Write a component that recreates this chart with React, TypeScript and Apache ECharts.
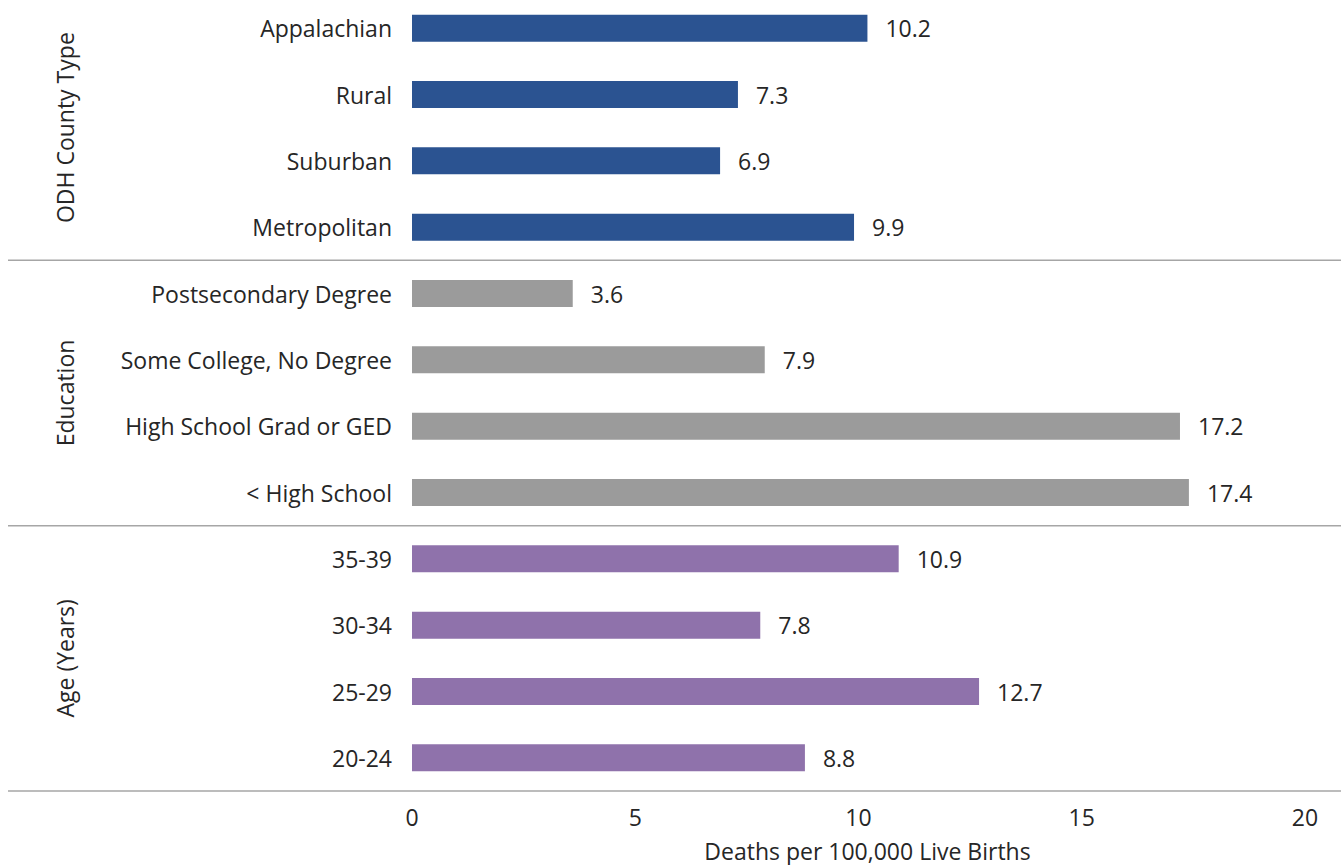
import React, { useEffect, useRef } from "react";
import * as echarts from "echarts";

const categories = [
  "Appalachian", "Rural", "Suburban", "Metropolitan",
  "Postsecondary Degree", "Some College, No Degree", "High School Grad or GED", "< High School",
  "35-39", "30-34", "25-29", "20-24",
];
const values = [10.2, 7.3, 6.9, 9.9, 3.6, 7.9, 17.2, 17.4, 10.9, 7.8, 12.7, 8.8];
const groupNames = ["ODH County Type", "Education", "Age (Years)"];
const groupSizes = [4, 4, 4];
const groupColors = ["#2B5391", "#9B9B9B", "#8F72AB"];
const xTicks = [0, 5, 10, 15, 20];

const FONT = "'Open Sans', 'Noto Sans', sans-serif";
const TEXT = "#262626";
const FS = 23;

export default function App() {
  const ref = useRef<HTMLDivElement>(null);
  useEffect(() => {
    document.body.style.margin = "0";
    const chart = echarts.init(ref.current!, null, { renderer: "svg" });
    const colorOf: string[] = [];
    groupSizes.forEach((n, g) => { for (let i = 0; i < n; i++) colorOf.push(groupColors[g]); });
    chart.setOption({
      animation: false,
      textStyle: { fontFamily: FONT },
      grid: { left: 412, right: 36, top: -5, bottom: 74, containLabel: false, outerBoundsMode: "none" },
      xAxis: {
        type: "value",
        min: xTicks[0],
        max: xTicks[xTicks.length - 1],
        interval: 5,
        splitLine: { show: false },
        axisLine: { show: false },
        axisTick: { show: false },
        axisLabel: { fontSize: FS, color: TEXT, margin: 14, fontFamily: FONT },
        name: "Deaths per 100,000 Live Births",
        nameLocation: "middle",
        nameGap: 48,
        nameMoveOverlap: false,
        nameTextStyle: { fontSize: FS, color: TEXT, fontFamily: FONT, padding: [0, 0, 0, 18] },
      },
      yAxis: {
        type: "category",
        data: categories,
        inverse: true,
        axisLine: { show: false },
        axisTick: { show: false },
        axisLabel: { fontSize: FS, color: TEXT, margin: 20, fontFamily: FONT },
      },
      series: [{
        type: "bar",
        barWidth: 27,
        data: values.map((v, i) => ({ value: v, itemStyle: { color: colorOf[i] } })),
        label: {
          show: true,
          position: "right",
          distance: 18,
          fontSize: FS,
          color: TEXT,
          fontFamily: FONT,
          formatter: (p: any) => p.value.toFixed(1),
        },
      }],
    });

    const py = (i: number) => chart.convertToPixel({ yAxisIndex: 0 }, categories[i]) as number;
    const band = py(1) - py(0);
    const graphics: any[] = [];
    let start = 0;
    groupSizes.forEach((n, g) => {
      const end = start + n - 1;
      const yLine = py(end) + band / 2;
      graphics.push({
        type: "line",
        shape: { x1: 8, y1: yLine, x2: 1341, y2: yLine },
        style: { stroke: "#A6A6A6", lineWidth: 1.5 },
      });
      const yc = (py(start) + py(end)) / 2;
      graphics.push({
        type: "text",
        x: 65,
        y: yc,
        rotation: Math.PI / 2,
        style: {
          text: groupNames[g],
          fontSize: FS,
          fontFamily: FONT,
          fill: TEXT,
          align: "center",
          verticalAlign: "middle",
        },
      });
      start = end + 1;
    });
    chart.setOption({ graphic: graphics });
    return () => chart.dispose();
  }, []);
  return <div ref={ref} style={{ width: 1341, height: 865 }} />;
}
